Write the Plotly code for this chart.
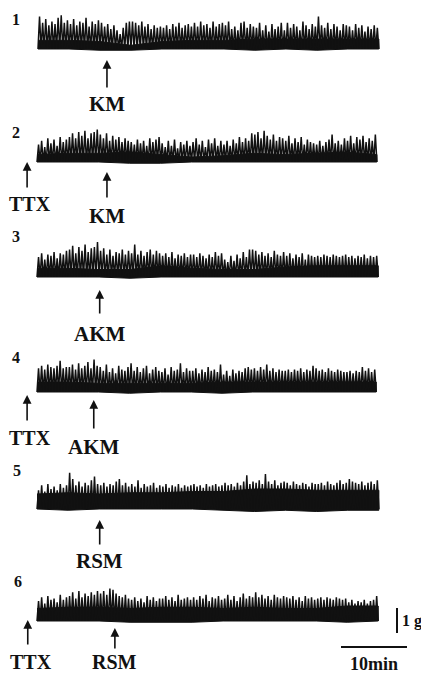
import numpy as np
import plotly.graph_objects as go

# ---------------- data ----------------
# spike peak heights (g above the trough level) for each record, left to right
PEAKS_1 = [1.30, 1.05, 1.20, 0.95, 1.10, 1.00, 1.25, 1.35, 1.05, 1.15,
           1.00, 1.20, 0.95, 1.10, 1.05, 1.25, 0.90, 1.10, 1.00, 1.15,
           1.05, 0.90, 1.00, 0.80, 0.95, 0.75, 0.60, 0.85, 1.05, 1.10,
           1.10, 1.05, 0.95, 1.10, 0.90, 1.00, 0.80, 0.95, 0.85, 0.90,
           0.85, 0.95, 0.80, 1.00, 0.90, 1.05, 0.85, 0.95, 1.00, 0.90,
           1.05, 0.90, 1.10, 0.95, 1.00, 0.85, 1.10, 0.90, 1.00, 1.05,
           0.95, 1.10, 0.80, 0.90, 0.75, 1.05, 1.10, 0.85, 1.00, 0.90,
           0.85, 1.05, 0.75, 0.95, 0.70, 1.00, 0.80, 0.90, 1.05, 0.75,
           1.05, 0.85, 1.00, 0.90, 0.75, 1.10, 0.95, 0.80, 1.00, 0.90,
           1.30, 0.95, 0.85, 1.05, 0.80, 1.00, 0.90, 0.75, 1.00, 0.95,
           0.90, 0.75, 1.00, 0.85, 0.95, 0.70, 0.90, 0.80, 0.95, 0.85]
PEAKS_2 = [0.70, 0.85, 0.60, 0.95, 0.75, 0.90, 0.65, 1.00, 0.80, 0.90,
           1.00, 1.15, 0.95, 1.20, 1.05, 1.25, 0.95, 1.15, 1.20, 1.30,
           1.10, 0.95, 1.15, 0.85, 1.05, 0.90, 1.00, 0.80, 0.95, 0.85,
           0.80, 0.70, 0.90, 0.75, 0.85, 0.65, 0.95, 0.80, 0.90, 1.00,
           0.75, 0.60, 0.85, 0.65, 0.90, 0.55, 0.80, 0.70, 0.85, 0.65,
           0.80, 0.95, 0.70, 0.85, 0.60, 0.90, 0.75, 0.95, 0.65, 0.85,
           0.70, 0.85, 0.65, 0.90, 0.75, 1.00, 0.80, 0.95, 0.85, 1.15,
           1.10, 1.20, 0.95, 1.25, 1.05, 0.90, 1.10, 0.85, 1.00, 0.95,
           0.85, 1.05, 0.75, 0.95, 0.80, 1.00, 0.70, 0.90, 0.80, 0.75,
           0.70, 0.85, 0.65, 0.80, 0.90, 1.10, 0.75, 0.85, 0.70, 0.95,
           0.85, 1.05, 0.75, 1.00, 0.90, 1.05, 0.80, 0.95, 0.85, 1.10]
PEAKS_3 = [0.80, 0.95, 0.70, 0.90, 0.85, 1.00, 0.75, 0.95, 0.90, 1.05,
           1.10, 1.25, 0.95, 1.20, 1.05, 1.30, 1.00, 1.15, 1.20, 1.40,
           1.05, 1.15, 0.90, 1.10, 0.85, 1.00, 0.95, 1.10, 0.90, 1.05,
           0.95, 1.30, 0.90, 1.05, 0.85, 1.00, 1.10, 0.90, 1.05, 0.95,
           0.85, 0.95, 0.80, 1.00, 0.75, 0.90, 0.85, 0.95, 0.80, 0.90,
           0.90, 0.80, 0.95, 0.85, 0.75, 0.90, 0.80, 1.00, 0.85, 0.95,
           0.70, 0.60, 0.85, 0.65, 0.90, 0.75, 1.00, 0.80, 1.10, 1.10,
           1.05, 0.90, 1.00, 0.85, 0.95, 0.80, 1.05, 0.90, 0.85, 1.00,
           0.85, 0.95, 0.75, 0.90, 0.80, 0.95, 0.70, 0.90, 0.85, 0.80,
           0.85, 0.80, 0.90, 0.85, 0.80, 0.90, 0.85, 0.80, 0.85, 0.90,
           0.80, 0.85, 0.75, 0.85, 0.80, 0.90, 0.75, 0.85, 0.80, 0.85]
PEAKS_4 = [0.95, 1.05, 0.90, 1.10, 1.00, 0.95, 1.05, 1.25, 0.95, 1.00,
           1.00, 1.10, 0.90, 1.15, 0.95, 1.05, 1.20, 0.95, 1.30, 1.05,
           1.00, 0.85, 1.10, 0.80, 0.95, 0.75, 1.05, 0.90, 0.85, 1.00,
           1.15, 0.85, 1.00, 0.80, 0.95, 1.05, 0.75, 0.90, 1.00, 0.85,
           0.80, 0.95, 0.70, 1.00, 0.85, 0.90, 1.15, 0.80, 0.95, 0.85,
           0.85, 0.95, 0.75, 0.90, 0.80, 1.00, 0.85, 0.90, 0.80, 1.10,
           0.70, 0.85, 0.65, 0.90, 0.75, 0.85, 0.80, 0.95, 1.00, 0.90,
           0.95, 0.85, 1.00, 0.90, 1.10, 0.85, 0.95, 0.80, 0.90, 0.85,
           0.85, 0.90, 0.80, 0.90, 0.85, 0.95, 0.80, 0.90, 0.85, 1.05,
           0.95, 0.85, 0.90, 0.80, 0.95, 0.85, 0.80, 0.90, 0.85, 0.80,
           0.80, 0.85, 0.75, 0.85, 0.80, 1.00, 0.85, 0.95, 0.80, 0.90]
PEAKS_5 = [0.75, 0.95, 0.70, 1.00, 0.80, 0.90, 0.75, 1.00, 0.85, 0.95,
           1.45, 1.20, 0.95, 1.10, 0.90, 1.05, 0.95, 1.15, 1.30, 1.00,
           0.95, 1.05, 0.90, 1.00, 0.95, 1.10, 1.20, 0.95, 1.05, 0.90,
           1.00, 0.90, 1.15, 0.85, 1.00, 0.90, 0.95, 1.05, 0.85, 0.95,
           0.90, 1.00, 0.85, 0.95, 0.90, 1.00, 0.85, 0.95, 0.90, 0.95,
           1.00, 0.90, 0.95, 0.85, 1.00, 0.90, 0.95, 1.00, 0.90, 0.95,
           1.05, 0.95, 1.00, 0.90, 1.05, 0.95, 1.10, 1.35, 1.00, 1.10,
           1.05, 1.15, 1.00, 1.40, 1.10, 1.00, 1.15, 0.95, 1.05, 1.10,
           1.05, 0.95, 1.10, 1.00, 0.95, 1.05, 1.00, 0.90, 1.05, 1.00,
           1.00, 1.05, 0.95, 1.10, 1.00, 0.95, 1.05, 1.15, 1.00, 1.05,
           1.20, 1.10, 1.05, 1.00, 1.10, 0.95, 1.05, 1.10, 1.00, 1.15]
PEAKS_6 = [0.80, 0.95, 0.70, 1.00, 0.85, 0.90, 0.75, 1.05, 0.85, 0.95,
           1.00, 1.15, 0.90, 1.20, 0.95, 1.10, 1.00, 1.15, 1.05, 1.20,
           1.10, 1.20, 1.05, 1.30, 1.25, 1.10, 1.00, 0.95, 1.05, 0.90,
           0.85, 0.95, 0.80, 0.90, 0.75, 1.00, 0.85, 0.95, 0.80, 0.90,
           0.90, 1.00, 0.85, 0.95, 0.80, 1.05, 0.85, 0.90, 0.95, 0.85,
           0.95, 0.85, 1.00, 0.90, 1.05, 0.80, 0.95, 0.90, 1.00, 0.85,
           0.90, 1.05, 0.85, 1.00, 0.80, 0.95, 1.10, 0.90, 1.00, 0.95,
           1.15, 0.95, 1.05, 0.90, 1.00, 0.85, 1.05, 0.95, 0.90, 1.00,
           0.95, 0.90, 1.00, 0.85, 0.95, 0.80, 1.00, 0.90, 0.95, 0.85,
           0.90, 0.95, 0.85, 0.95, 0.90, 0.85, 0.95, 0.90, 0.85, 0.90,
           0.75, 0.85, 0.70, 0.80, 0.75, 0.85, 0.70, 0.80, 0.85, 1.00]

# dense high-frequency band (upper / lower edge, g), 12 readings along each record
BAND_TOP_1 = [0.35, 0.35, 0.30, 0.15, 0.30, 0.35, 0.35, 0.40, 0.40, 0.40, 0.40, 0.40]
BAND_BOT_1 = [0.00, 0.00, -0.05, -0.05, 0.00, 0.00, 0.00, -0.05, 0.00, -0.05, 0.00, 0.00]
BAND_TOP_2 = [0.30, 0.35, 0.35, 0.40, 0.30, 0.20, 0.25, 0.35, 0.30, 0.35, 0.40, 0.30]
BAND_BOT_2 = [0.00, 0.00, 0.00, -0.05, -0.05, 0.00, 0.00, 0.00, 0.00, 0.00, 0.00, 0.00]
BAND_TOP_3 = [0.35, 0.35, 0.30, 0.30, 0.45, 0.35, 0.30, 0.30, 0.40, 0.45, 0.45, 0.45]
BAND_BOT_3 = [0.00, 0.00, 0.00, -0.05, 0.00, 0.00, 0.00, 0.00, 0.00, 0.00, 0.00, 0.00]
BAND_TOP_4 = [0.40, 0.40, 0.35, 0.35, 0.35, 0.35, 0.40, 0.40, 0.40, 0.40, 0.40, 0.40]
BAND_BOT_4 = [0.00, 0.00, 0.00, -0.05, 0.00, 0.00, -0.05, 0.00, 0.00, 0.00, 0.00, 0.00]
BAND_TOP_5 = [0.60, 0.65, 0.60, 0.65, 0.65, 0.70, 0.70, 0.80, 0.80, 0.75, 0.75, 0.75]
BAND_BOT_5 = [0.00, -0.05, 0.00, 0.00, 0.00, 0.00, -0.05, -0.10, -0.05, -0.10, -0.05, -0.05]
BAND_TOP_6 = [0.50, 0.55, 0.55, 0.50, 0.55, 0.55, 0.50, 0.55, 0.50, 0.50, 0.60, 0.60]
BAND_BOT_6 = [0.00, 0.00, 0.00, -0.05, -0.05, -0.05, 0.00, 0.00, 0.00, 0.00, -0.05, 0.00]

RECORD_LABELS = ["1", "2", "3", "4", "5", "6"]
RECORD_START_MIN = [0.15, 0.0, 0.0, 0.0, 0.0, 0.0]
RECORD_END_MIN = [51.8, 51.5, 51.7, 51.4, 51.8, 51.7]

# drug applications: (record, label, time in min)
EVENT_RECORD = [1, 2, 2, 3, 4, 4, 5, 6, 6]
EVENT_LABEL = ["KM", "TTX", "KM", "AKM", "TTX", "AKM", "RSM", "TTX", "RSM"]
EVENT_MIN = [10.6, -1.5, 10.6, 9.5, -1.5, 8.6, 9.5, -1.4, 11.8]

SCALE_MIN = 10
SCALE_G = 1

PEAKS = [PEAKS_1, PEAKS_2, PEAKS_3, PEAKS_4, PEAKS_5, PEAKS_6]
BAND_TOP = [BAND_TOP_1, BAND_TOP_2, BAND_TOP_3, BAND_TOP_4, BAND_TOP_5, BAND_TOP_6]
BAND_BOT = [BAND_BOT_1, BAND_BOT_2, BAND_BOT_3, BAND_BOT_4, BAND_BOT_5, BAND_BOT_6]

# ---------------- layout geometry ----------------
# the page body has an 8 px margin on every side; size the figure so the page never scrolls
PAGE_MARGIN = 8
W, H = 429 - 2 * PAGE_MARGIN, 682 - 2 * PAGE_MARGIN
X0_PX = 37          # screen x where t = 0 sits
PX_PER_MIN = 6.6
PX_PER_G = 25
BASE_PX = [49, 162, 277, 392, 509, 621]   # screen y of the trough level of each record
Y_TOP_G = [1.5, 1.7, 1.7, 1.7, 1.7, 1.7]
Y_BOT_G = [-0.3, -0.3, -0.3, -0.3, -0.3, -1.5]
# arrow head / tail / label-centre screen y (px) for each event
EVENT_Y_PX = [(60, 89, 104), (162, 189, 204), (172, 199, 216), (290, 315, 334),
              (395, 422, 438), (400, 430, 447), (520, 546, 561),
              (620, 646, 662), (628, 650, 662)]
NUM_POS_PX = [(16, 19), (16, 132), (16, 237), (16, 357), (17, 470), (18, 581)]

SERIF = "Liberation Serif, DejaVu Serif, serif"
INK = "#111111"


def px_x(sx):
    return (sx - PAGE_MARGIN) / W


def px_y(sy):
    return 1 - (sy - PAGE_MARGIN) / H


fig = go.Figure()
layout = dict(width=W, height=H, margin=dict(l=0, r=0, t=0, b=0), autosize=False,
              paper_bgcolor="white", plot_bgcolor="white", showlegend=False)

x_range = [-(X0_PX - PAGE_MARGIN) / PX_PER_MIN, (W + PAGE_MARGIN - X0_PX) / PX_PER_MIN]

for k in range(6):
    idx = k + 1
    xa = "x" if idx == 1 else f"x{idx}"
    ya = "y" if idx == 1 else f"y{idx}"
    peaks = PEAKS[k]
    n = len(peaks)
    t0, t1 = RECORD_START_MIN[k], RECORD_END_MIN[k]
    dt = (t1 - t0) / n
    xs, ys = [], []
    for i, p in enumerate(peaks):
        t = t0 + i * dt
        xs += [t, t + dt / 2]
        ys += [0.0, p]
    xs.append(t1)
    ys.append(0.0)

    bt = np.linspace(t0, t1, len(BAND_TOP[k]))
    bx = list(bt) + list(bt[::-1])
    by = list(BAND_TOP[k]) + list(BAND_BOT[k][::-1])
    fig.add_trace(go.Scatter(x=bx, y=by, fill="toself", fillcolor=INK, mode="lines",
                             line=dict(color=INK, width=1), xaxis=xa, yaxis=ya,
                             hoverinfo="skip"))
    fig.add_trace(go.Scatter(x=xs, y=ys, mode="lines", line=dict(color=INK, width=1.5),
                             xaxis=xa, yaxis=ya, hoverinfo="skip"))

    base = BASE_PX[k]
    dom = [px_y(base - Y_BOT_G[k] * PX_PER_G), px_y(base - Y_TOP_G[k] * PX_PER_G)]
    axkey = "xaxis" if idx == 1 else f"xaxis{idx}"
    aykey = "yaxis" if idx == 1 else f"yaxis{idx}"
    layout[axkey] = dict(domain=[0, 1], range=x_range, visible=False,
                         anchor=ya, fixedrange=True)
    layout[aykey] = dict(domain=dom, range=[Y_BOT_G[k], Y_TOP_G[k]], visible=False,
                         anchor=xa, fixedrange=True)

annotations = []
for k, lab in enumerate(RECORD_LABELS):
    x, y = NUM_POS_PX[k]
    annotations.append(dict(x=px_x(x), y=px_y(y), xref="paper", yref="paper", text=f"<b>{lab}</b>",
                            showarrow=False, font=dict(family=SERIF, size=16, color=INK),
                            xanchor="center", yanchor="middle", borderpad=0))

for rec, lab, tmin, (hy, ty, ly) in zip(EVENT_RECORD, EVENT_LABEL, EVENT_MIN, EVENT_Y_PX):
    xa = "x" if rec == 1 else f"x{rec}"
    annotations.append(dict(x=tmin, y=px_y(hy), xref=xa, yref="paper", text="",
                            showarrow=True, ax=0, ay=ty - hy, arrowhead=2,
                            arrowsize=1.1, arrowwidth=1.6, arrowcolor=INK,
                            standoff=0))
    near_edge = tmin < 0   # label left of the records: keep it inside the page
    compact = near_edge or rec == 6
    annotations.append(dict(x=tmin, y=px_y(ly), xref=xa, yref="paper", text=f"<b>{lab}</b>",
                            showarrow=False,
                            font=dict(family=SERIF, size=20 if compact else 21, color=INK),
                            xanchor="center", yanchor="middle", borderpad=0,
                            xshift=3 if near_edge else 0))

# scale bars (drawn in the axes of record 6)
bar_x_min = (397 - X0_PX) / PX_PER_MIN
hb_start = (341 - X0_PX) / PX_PER_MIN
shapes = [
    dict(type="line", xref="x6", yref="y6", x0=bar_x_min, x1=bar_x_min,
         y0=(BASE_PX[5] - 633) / PX_PER_G, y1=(BASE_PX[5] - 633) / PX_PER_G + SCALE_G,
         line=dict(color=INK, width=2)),
    dict(type="line", xref="x6", yref="y6", x0=hb_start, x1=hb_start + SCALE_MIN,
         y0=(BASE_PX[5] - 647) / PX_PER_G, y1=(BASE_PX[5] - 647) / PX_PER_G,
         line=dict(color=INK, width=2)),
]
annotations.append(dict(x=px_x(401), y=px_y(621), xref="paper", yref="paper",
                        text=f"<b>{SCALE_G} g</b>", showarrow=False, xanchor="left",
                        yanchor="middle", borderpad=0,
                        font=dict(family=SERIF, size=16, color=INK)))
annotations.append(dict(x=hb_start + SCALE_MIN / 2, y=px_y(664), xref="x6", yref="paper",
                        text=f"<b>{SCALE_MIN}min</b>", showarrow=False, xanchor="center",
                        yanchor="middle", borderpad=0,
                        font=dict(family=SERIF, size=18, color=INK)))

layout["annotations"] = annotations
layout["shapes"] = shapes
fig.update_layout(**layout)
fig.write_html("out.html")
